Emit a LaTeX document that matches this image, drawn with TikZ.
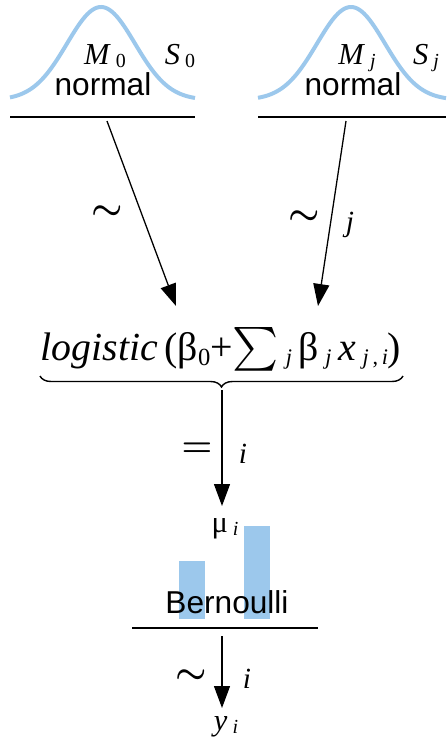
\RequirePackage{fix-cm}
\documentclass[tikz,border=0pt]{standalone}
\usepackage{amsmath}
\usepackage{exscale}
\usepackage{graphicx}
\usepackage{fontspec}
\setmainfont{Liberation Serif}
\newfontfamily\helv{Liberation Sans}
\usetikzlibrary{arrows.meta,decorations.pathreplacing}
\definecolor{distblue}{HTML}{9CC8EC}
\newcommand\sbs[1]{\,\raisebox{-0.25ex}{\fontsize{17}{19}\selectfont #1}}
\newcommand\fsbs[1]{\,\raisebox{-0.25ex}{\fontsize{19}{21}\selectfont #1}}

\begin{document}
\begin{tikzpicture}[x=0.03cm, y=-0.03cm,
  curve/.style={draw=distblue, line width=3.4pt},
  bar/.style={fill=distblue, draw=none},
  rule/.style={line width=1.5pt},
  arr/.style={-{Triangle[length=0.66cm,width=0.48cm]}, line width=1.1pt},
  dist/.style={font=\helv\fontsize{27}{30}\selectfont, inner sep=0pt},
  lbl/.style={font=\fontsize{26}{30}\selectfont, inner sep=0pt},
  frm/.style={font=\fontsize{34}{38}\selectfont, inner sep=0pt},
  rel/.style={font=\fontsize{30}{34}\selectfont, inner sep=0pt},
  idx/.style={font=\fontsize{25}{28}\selectfont\itshape, inner sep=0pt},
]
\useasboundingbox (0,0) rectangle (446,755);
% --- priors ---
\draw[curve] plot[domain=10:195, samples=90, smooth] (\x, {100-93*exp(-((\x-101)/34)^2/2)});
\draw[curve] plot[domain=258:446, samples=90, smooth] (\x, {100-93*exp(-((\x-351)/34)^2/2)});
\node[dist, anchor=base] (nrm0) at (103,95) {normal};
\node[lbl, anchor=base] (mean0) at (105,64) {\textit{M}\sbs{0}};
\node[lbl, anchor=base] (sd0) at (180,64) {\textit{S}\sbs{0}};
\node[dist, anchor=base] (nrmj) at (353,95) {normal};
\node[lbl, anchor=base] (meanj) at (357,64) {\textit{M}\sbs{\textit{j}}};
\node[lbl, anchor=base] (sdj) at (426,64) {\textit{S}\sbs{\textit{j}}};
\draw[rule] (10,117) -- (195,117);
\draw[rule] (258,117) -- (446,117);
% --- coefficients ---
\coordinate (top0) at (107,121);
\coordinate (topj) at (346,121);
\coordinate (in0) at (176,306);
\coordinate (inj) at (318,306);
\draw[arr] (top0) -- (in0);
\draw[arr] (topj) -- (inj);
\node[rel] (tl0) at (107,213) {$\boldsymbol{\sim}$};
\node[rel] (tlj) at (304,218) {$\boldsymbol{\sim}$};
\node[idx] (jj) at (350,225) {j};
% --- linear predictor ---
\node[frm, anchor=base] (lgst) at (221,360) {\textit{logistic}\,(β\raisebox{-0.3ex}{\fontsize{21}{23}\selectfont 0}+\raisebox{-0.12em}{\scalebox{1.5}{$\sum$}}\fsbs{\textit{j}}\,β\fsbs{\textit{j}}\,\textit{x}\fsbs{\textit{j}\,,\,\textit{i}})};
\draw[line width=1.2pt, decorate, decoration={brace, mirror, amplitude=0.33cm}] (40,376) -- (403,376);
\coordinate (brtip) at (222,390);
\coordinate (muin) at (222,506);
\draw[arr] (brtip) -- (muin);
\node[rel] (eq) at (197,450) {$\boldsymbol{=}$};
\node[idx, anchor=base] (ii) at (243,463) {i};
% --- likelihood ---
\node[lbl, anchor=base] (mu) at (225,532) {μ\sbs{\textit{i}}};
\fill[bar] (179,561) rectangle (205,619);
\fill[bar] (244,526) rectangle (270,619);
\node[dist, anchor=base] (bern) at (227,613) {Bernoulli};
\draw[rule] (132,628) -- (318,628);
\coordinate (obsout) at (222,636);
\coordinate (obsin) at (222,708);
\draw[arr] (obsout) -- (obsin);
\node[rel] (tly) at (191,677) {$\boldsymbol{\sim}$};
\node[idx, anchor=base] (iy) at (247,688) {i};
\node[lbl, anchor=base] (yi) at (226,730) {\textit{y}\sbs{\textit{i}}};
\end{tikzpicture}
\end{document}
